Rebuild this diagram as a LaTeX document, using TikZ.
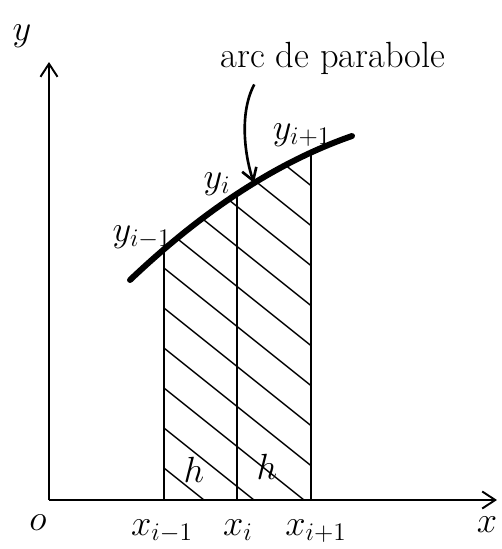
\documentclass[tikz,border=0pt]{standalone}
\usetikzlibrary{arrows.meta}
\begin{document}
\begin{tikzpicture}[x=0.02cm, y=-0.02cm,
    axis/.style={line width=1.1pt, -{Straight Barb[length=2.6mm, width=3.4mm]}},
    hatch/.style={line width=0.8pt},
    lbl/.style={font=\huge}]
  \useasboundingbox (0,0) rectangle (502,549);
  \coordinate (O) at (49,500);
  \coordinate (ytip) at (49,62);
  \coordinate (xtip) at (497,500);
  % Ends of the parabola arc and its control points.
  \coordinate (c0) at (130,280);
  \coordinate (k0) at (204,209.7);
  \coordinate (k1) at (278,161.7);
  \coordinate (c1) at (352,136);
  % Feet of the ordinates and their tops on the arc.
  \coordinate (a0) at (164,500);  \coordinate (b0) at (164,249);
  \coordinate (a1) at (237,500);  \coordinate (b1) at (237,195);
  \coordinate (a2) at (311,500);  \coordinate (b2) at (311,153);
  \coordinate (tip) at (254,183);
  % Hatched area under the arc.
  \begin{scope}
    \clip (164,100) rectangle (311,500);
    \clip (c0) .. controls (k0) and (k1) .. (c1) -- (352,500) -- (130,500) -- cycle;
    \foreach \c in {68,108,...,468}
      \draw[hatch] (150,\c-11.2) -- ++(180,144);
  \end{scope}
  % Axes and ordinates.
  \draw[axis] (O) -- (ytip);
  \draw[axis] (O) -- (xtip);
  \draw[line width=1pt] (a0) -- (b0) (a1) -- (b1) (a2) -- (b2);
  \draw[line width=3.4pt, line cap=round] (c0) .. controls (k0) and (k1) .. (c1);
  % Labels.
  \node[lbl] (arc) at (333,58) {arc de parabole};
  \draw[line width=1.5pt, -{Straight Barb[length=2.4mm, width=3mm]}]
    (arc.south west) ++(40,4) .. controls (238,115) and (246,160) .. (tip);
  \node[lbl] (ylab) at (22,36) {$y$};
  \node[lbl] (ym) at (142,237) {$y_{i-1}$};
  \node[lbl] (yi) at (217,184) {$y_i$};
  \node[lbl] (yp) at (302,135) {$y_{i+1}$};
  \node[lbl] (olab) at (38,523) {$o$};
  \node[lbl] (xm) at (162,531) {$x_{i-1}$};
  \node[lbl] (xi) at (238,530) {$x_i$};
  \node[lbl] (xp) at (316,531) {$x_{i+1}$};
  \node[lbl] (xlab) at (487,525) {$x$};
  \node[lbl] (h0) at (194,470) {$h$};
  \node[lbl] (h1) at (267,467) {$h$};
\end{tikzpicture}
\end{document}
